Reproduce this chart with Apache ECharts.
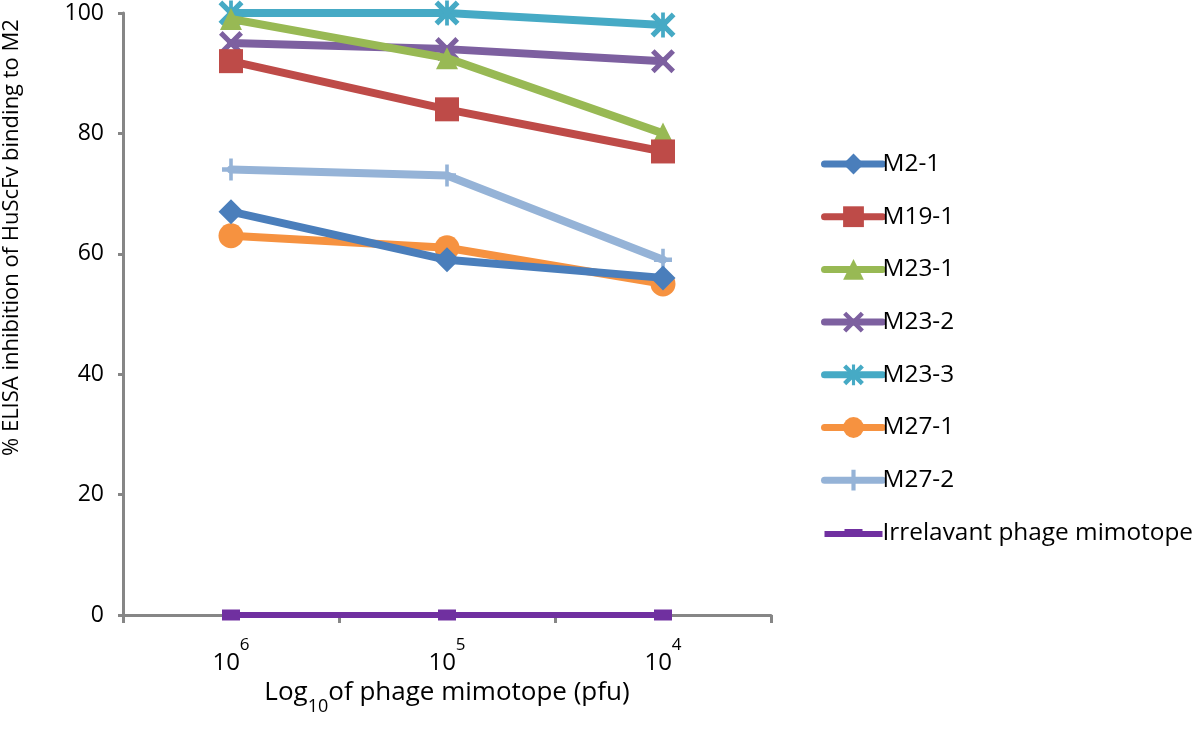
<!DOCTYPE html>
<html>
<head>
<meta charset="utf-8">
<script src="https://cdn.jsdelivr.net/npm/echarts@6/dist/echarts.min.js"></script>
<style>html,body{margin:0;padding:0;background:#fff}#c{width:1200px;height:742px}</style>
</head>
<body>
<div id="c"></div>
<script>
// ---- data ----
const exponents = ['6', '5', '4'];          // x categories: 10^6, 10^5, 10^4 pfu
const seriesNames = ['M2-1', 'M19-1', 'M23-1', 'M23-2', 'M23-3', 'M27-1', 'M27-2', 'Irrelavant phage mimotope'];
const m2_1 = [67, 59, 56];
const m19_1 = [92, 84, 77];
const m23_1 = [99, 92.5, 80];
const m23_2 = [95, 94, 92];
const m23_3 = [100, 100, 98];
const m27_1 = [63, 61, 55];
const m27_2 = [74, 73, 59];
const irrelevant = [0, 0, 0];
const yTicks = [0, 20, 40, 60, 80, 100];

const FONT = '"Open Sans", sans-serif';
const colors = ['#4A7EBB', '#BE4B48', '#98B954', '#7D60A0', '#46AAC5', '#F69240', '#95B3D7', '#7030A0'];
const symX = 'path://M3,0 L10,7 L17,0 L20,3 L13,10 L20,17 L17,20 L10,13 L3,20 L0,17 L7,10 L0,3 Z';
const symAst = 'path://M3,0 L10,7 L17,0 L20,3 L13,10 L20,17 L17,20 L10,13 L3,20 L0,17 L7,10 L0,3 Z M8.5,0 L11.5,0 L11.5,20 L8.5,20 Z';
const symPlus = 'path://M8,0 L12,0 L12,8 L20,8 L20,12 L12,12 L12,20 L8,20 L8,12 L0,12 L0,8 L8,8 Z';
const symbols = ['diamond', 'rect', 'triangle', symX, symAst, 'circle', symPlus, 'rect'];
const symSizes = [25, 24, 22, 24, 25, 25, [18, 22], [18, 11]];
const lineWidths = [8, 8, 8, 8, 8, 8, 8, 6];
const values = [m2_1, m19_1, m23_1, m23_2, m23_3, m27_1, m27_2, irrelevant];

const series = seriesNames.map((n, i) => ({
  name: n,
  type: 'line',
  data: values[i],
  symbol: symbols[i],
  symbolSize: symSizes[i],
  showAllSymbol: true,
  z: 10 - i,
  lineStyle: { color: colors[i], width: lineWidths[i], cap: 'round', join: 'round' },
  itemStyle: { color: colors[i], borderWidth: 0 },
  emphasis: { disabled: true },
  animation: false
}));

const legendData = seriesNames.map((n, i) => i === 7
  ? { name: n, icon: 'path://M0,9 L20,9 L20,7 L38,7 L38,9 L58,9 L58,15 L0,15 Z' }
  : { name: n });

const chart = echarts.init(document.getElementById('c'));
chart.setOption({
  animation: false,
  grid: { left: 123, right: 429, top: 13, bottom: 127, containLabel: false },
  xAxis: {
    type: 'category',
    data: exponents,
    boundaryGap: true,
    axisLine: { lineStyle: { color: '#868686', width: 3 } },
    axisTick: { show: true, length: 8, lineStyle: { color: '#868686', width: 3 } },
    axisLabel: {
      margin: 22,
      formatter: v => '{b|10}{s|' + v + '}',
      rich: {
        b: { fontFamily: FONT, fontSize: 24, color: '#000', padding: [14, 0, 0, 0], verticalAlign: 'bottom' },
        s: { fontFamily: FONT, fontSize: 17, color: '#000', verticalAlign: 'top' }
      }
    },
    name: '{a|Log}{sub|10}{a|of phage mimotope (pfu)}',
    nameLocation: 'middle',
    nameGap: 64,
    nameTextStyle: {
      rich: {
        a: { fontFamily: FONT, fontSize: 26, color: '#000', verticalAlign: 'top' },
        sub: { fontFamily: FONT, fontSize: 18, color: '#000', padding: [18, 0, 0, 0], verticalAlign: 'bottom' }
      }
    }
  },
  yAxis: {
    type: 'value',
    min: 0, max: 100, interval: 20,
    splitLine: { show: false },
    axisLine: { show: true, lineStyle: { color: '#868686', width: 3 } },
    axisTick: { show: true, length: 5, lineStyle: { color: '#868686', width: 3 } },
    axisLabel: { fontFamily: FONT, fontSize: 23, color: '#000', margin: 19,
      formatter: v => yTicks.includes(v) ? String(v) : '' }
  },
  legend: {
    orient: 'vertical',
    left: 816, top: 147,
    itemWidth: 58, itemHeight: 26,
    itemGap: 28.7,
    lineStyle: { width: 7, cap: 'round' },
    textStyle: { fontFamily: FONT, fontSize: 24.4, color: '#000', padding: [0, 0, 0, -5] },
    data: legendData,
    selectedMode: false
  },
  graphic: [{
    type: 'text',
    x: 1,
    y: 456,
    rotation: Math.PI / 2,
    style: { text: '% ELISA inhibition of HuScFv binding to M2', fontFamily: FONT, fontSize: 22, fill: '#000',
      textAlign: 'left', textVerticalAlign: 'top' }
  }],
  series: series
});
</script>
</body>
</html>
